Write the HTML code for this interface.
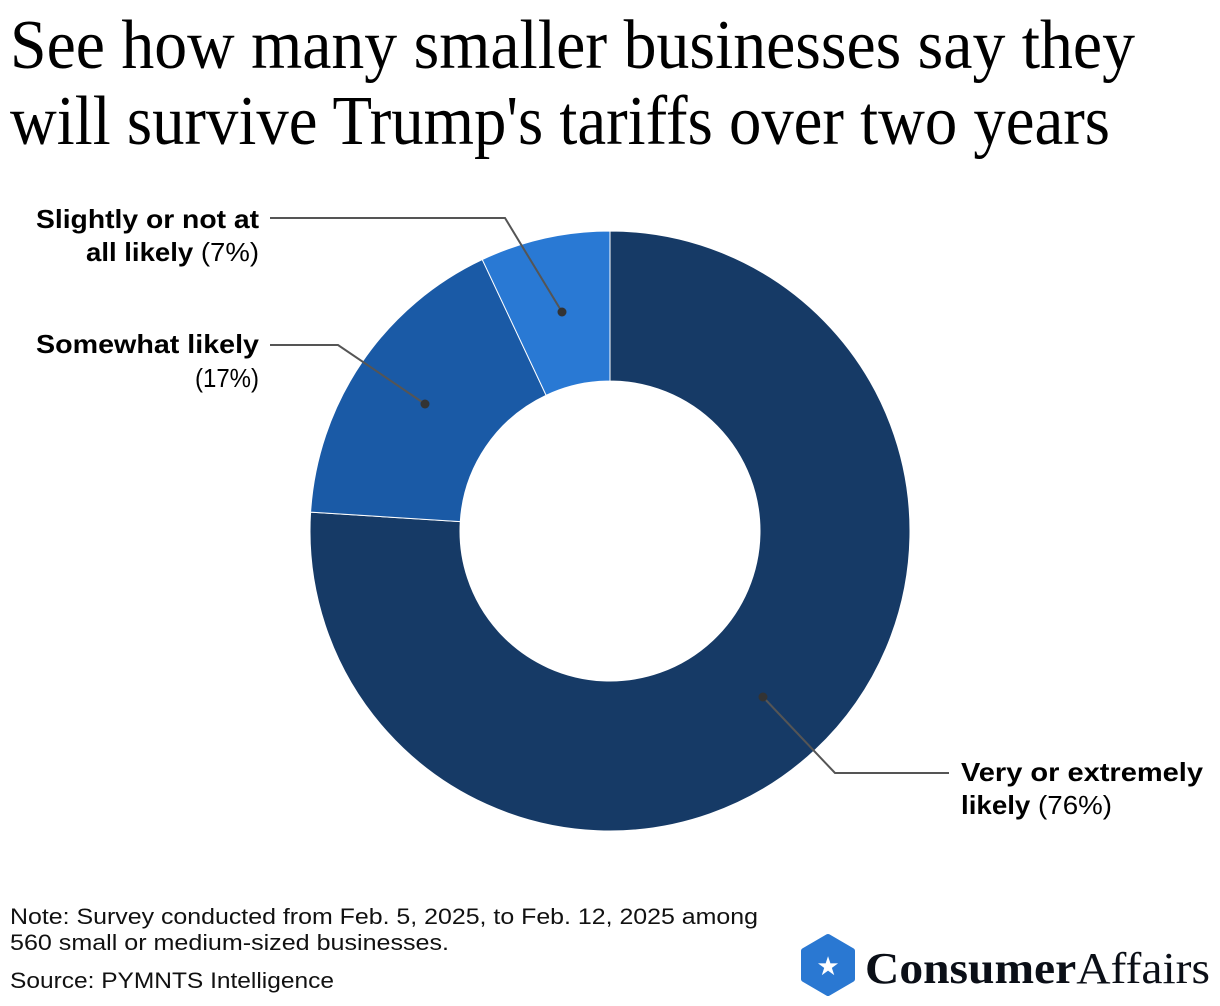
<!DOCTYPE html>
<html><head><meta charset="utf-8">
<style>
html,body{margin:0;padding:0;background:#fff;}
svg{display:block;}
.t{font-family:"Liberation Serif",serif;font-size:70px;fill:#000;}
.lb{font-family:"Liberation Sans",sans-serif;font-size:26px;fill:#000;}
.n{font-family:"Liberation Sans",sans-serif;font-size:22px;fill:#111;}
</style></head>
<body>
<svg id="chart" width="1220" height="1006" viewBox="0 0 1220 1006">
<text class="t" x="10" y="68" textLength="1125" lengthAdjust="spacingAndGlyphs">See how many smaller businesses say they</text>
<text class="t" x="10" y="144" textLength="1100" lengthAdjust="spacingAndGlyphs">will survive Trump's tariffs over two years</text>
<g id="donut"></g>
<g fill="none" stroke="#555" stroke-width="2">
<polyline points="270,218 505,218 562,312"/>
<polyline points="270,345 338,345 425,404"/>
<polyline points="763,697 835,773 949,773"/>
</g>
<g fill="#333">
<circle cx="562" cy="312" r="4.5"/>
<circle cx="425" cy="404" r="4.5"/>
<circle cx="763" cy="697" r="4.5"/>
</g>
<g>
<text class="lb" x="36" y="228" font-weight="bold" textLength="223" lengthAdjust="spacingAndGlyphs">Slightly or not at</text>
<text class="lb" x="86" y="261" textLength="173" lengthAdjust="spacingAndGlyphs"><tspan font-weight="bold">all likely</tspan> (7%)</text>
</g>
<g>
<text class="lb" x="36" y="353" font-weight="bold" textLength="223" lengthAdjust="spacingAndGlyphs">Somewhat likely</text>
<text class="lb" x="195" y="387" textLength="64" lengthAdjust="spacingAndGlyphs">(17%)</text>
</g>
<g>
<text class="lb" x="961" y="781" font-weight="bold" textLength="242" lengthAdjust="spacingAndGlyphs">Very or extremely</text>
<text class="lb" x="961" y="814" textLength="151" lengthAdjust="spacingAndGlyphs"><tspan font-weight="bold">likely</tspan> (76%)</text>
</g>
<text class="n" x="10" y="924" textLength="748" lengthAdjust="spacingAndGlyphs">Note: Survey conducted from Feb. 5, 2025, to Feb. 12, 2025 among</text>
<text class="n" x="10" y="950" textLength="439" lengthAdjust="spacingAndGlyphs">560 small or medium-sized businesses.</text>
<text class="n" x="10" y="988" textLength="324" lengthAdjust="spacingAndGlyphs">Source: PYMNTS Intelligence</text>
<g>
<polygon points="828,937 852,951 852,979 828,993 804,979 804,951" fill="#2a78d2" stroke="#2a78d2" stroke-width="6" stroke-linejoin="round"/>
<text x="828" y="975" text-anchor="middle" font-size="26" fill="#fff" font-family="DejaVu Sans,sans-serif">★</text>
<text x="865" y="983" font-family="Liberation Serif,serif" font-size="44" fill="#0b0f17" textLength="345" lengthAdjust="spacingAndGlyphs"><tspan font-weight="bold">Consumer</tspan>Affairs</text>
</g>
</svg>
<script>
const categories = ["Very or extremely likely", "Somewhat likely", "Slightly or not at all likely"];
const values = [76, 17, 7];
const colors = ["#163a66", "#1a5aa6", "#2979d4"];
const cx = 610, cy = 531, R = 300, r = 150;
const g = document.getElementById('donut');
const total = values.reduce((a,b)=>a+b,0);
function pt(rad, a){ return [cx + rad*Math.sin(a), cy - rad*Math.cos(a)]; }
let start = 0;
values.forEach((v,i)=>{
  const end = start + v/total*2*Math.PI;
  const large = (end-start) > Math.PI ? 1 : 0;
  const [x1,y1]=pt(R,start),[x2,y2]=pt(R,end),[x3,y3]=pt(r,end),[x4,y4]=pt(r,start);
  const p = document.createElementNS('http://www.w3.org/2000/svg','path');
  p.setAttribute('d',`M${x1},${y1} A${R},${R} 0 ${large} 1 ${x2},${y2} L${x3},${y3} A${r},${r} 0 ${large} 0 ${x4},${y4} Z`);
  p.setAttribute('fill',colors[i]);
  p.setAttribute('stroke','#fff');
  p.setAttribute('stroke-width','1');
  
  
  g.appendChild(p);
  start = end;
});
</script>
</body></html>
